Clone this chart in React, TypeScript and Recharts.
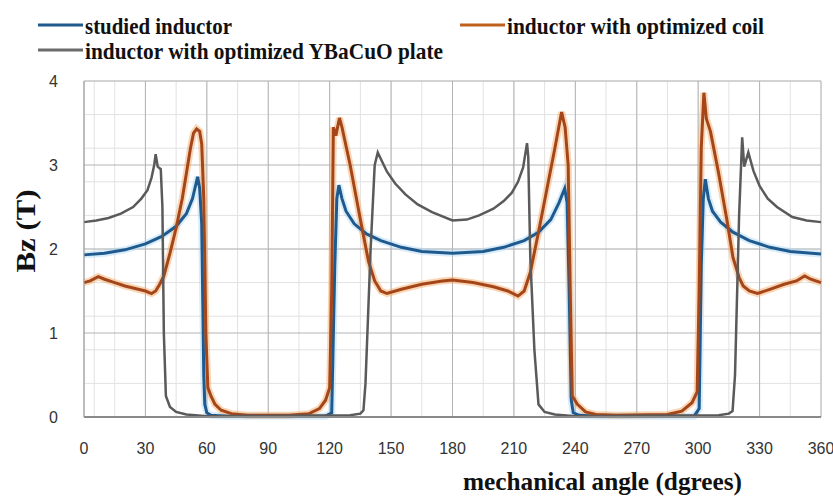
import React from 'react';
import { LineChart, Line, XAxis, YAxis, CartesianGrid, Legend } from 'recharts';

// mechanical angle (deg) / Bz (T) readings for each inductor
const studiedInductor: [number, number][] = [
  [0, 1.93], [10, 1.95], [20, 1.99], [30, 2.06], [38, 2.15], [45, 2.27], [50, 2.42], [53, 2.6],
  [55.5, 2.86], [56.5, 2.72], [57.5, 2.3], [58.5, 0.5], [59, 0.15], [60, 0.05], [62, 0.02], [70, 0.01],
  [118, 0.01], [121, 0.05], [122.5, 1.8], [123.5, 2.6], [124.5, 2.76], [126, 2.6], [128, 2.45],
  [132, 2.3], [138, 2.18], [145, 2.1], [155, 2.02], [165, 1.97], [180, 1.95], [195, 1.97], [205, 2.02],
  [215, 2.1], [222, 2.2], [228, 2.35], [232, 2.55], [234.8, 2.72], [236, 2.55], [237, 1.5], [238, 0.2],
  [239, 0.05], [242, 0.02], [250, 0.01], [298, 0.01], [300.5, 0.1], [301.5, 1.8], [302.5, 2.6],
  [303.5, 2.83], [305, 2.6], [307, 2.45], [311, 2.32], [317, 2.2], [325, 2.1], [335, 2.02], [345, 1.97],
  [360, 1.94],
];

const optimizedCoil: [number, number][] = [
  [0, 1.6], [3, 1.62], [7, 1.67], [10, 1.64], [15, 1.6], [20, 1.56], [25, 1.53], [30, 1.5], [33, 1.47],
  [35, 1.5], [37, 1.58], [39, 1.68], [42, 1.95], [45, 2.25], [48, 2.6], [50, 2.9], [52, 3.2], [53.5, 3.38],
  [55, 3.43], [56.5, 3.4], [57.5, 3.25], [58.5, 2.6], [59.5, 1.0], [60.5, 0.35], [62, 0.25], [64, 0.15],
  [67, 0.08], [72, 0.04], [80, 0.02], [100, 0.02], [110, 0.04], [115, 0.1], [118, 0.2], [120, 0.35],
  [121, 1.5], [121.8, 3.45], [123, 3.35], [124.8, 3.56], [126, 3.45], [130, 3.0], [135, 2.35],
  [139, 1.85], [142, 1.62], [145, 1.5], [148, 1.47], [155, 1.52], [165, 1.58], [175, 1.62], [180, 1.63],
  [190, 1.6], [200, 1.55], [207, 1.5], [212, 1.44], [215, 1.5], [218, 1.72], [222, 2.2], [226, 2.7],
  [230, 3.2], [233.3, 3.63], [235, 3.45], [236.5, 3.0], [237.5, 1.5], [238.5, 0.25], [241, 0.15],
  [245, 0.06], [250, 0.03], [260, 0.02], [285, 0.03], [292, 0.07], [297, 0.17], [299.5, 0.3],
  [300.5, 1.5], [301.5, 3.2], [302.8, 3.86], [304, 3.55], [306, 3.4], [310, 2.9], [314, 2.35],
  [317, 1.9], [320, 1.66], [322, 1.56], [325, 1.5], [329, 1.47], [335, 1.52], [342, 1.58], [348, 1.62],
  [352, 1.68], [355, 1.64], [360, 1.6],
];

const optimizedPlate: [number, number][] = [
  [0, 2.32], [6, 2.34], [12, 2.37], [18, 2.42], [24, 2.5], [28, 2.6], [31, 2.7], [33, 2.85], [34.3, 3.0],
  [35, 3.13], [36, 2.98], [37.5, 2.95], [38.3, 2.5], [39, 1.0], [40, 0.25], [42, 0.12], [45, 0.06],
  [50, 0.03], [60, 0.01], [130, 0.02], [135, 0.04], [136.5, 0.08], [137.5, 0.4], [140, 2.0], [142, 3.0],
  [143.5, 3.15], [146, 3.02], [148, 2.92], [152, 2.78], [157, 2.65], [163, 2.53], [170, 2.44],
  [180, 2.34], [187, 2.35], [193, 2.4], [200, 2.48], [205, 2.57], [209, 2.67], [212, 2.8], [214.5, 2.97],
  [216.4, 3.26], [217, 3.1], [218, 1.9], [220, 0.8], [222, 0.15], [225, 0.06], [230, 0.03], [240, 0.01],
  [310, 0.02], [315, 0.04], [316.8, 0.07], [318, 0.5], [320, 2.4], [321.5, 3.33], [322.5, 2.98],
  [324.5, 3.15], [327, 2.93], [330, 2.75], [334, 2.6], [338.5, 2.5], [346, 2.38], [353, 2.34], [360, 2.32],
];

const angleTicks = [0, 30, 60, 90, 120, 150, 180, 210, 240, 270, 300, 330, 360];
const bzTicks = [0, 1, 2, 3, 4];

const minorAngles = Array.from({ length: 73 }, (_, i) => i * 5);
const minorBz = Array.from({ length: 21 }, (_, i) => +(i * 0.2).toFixed(1));

const toPoints = (pts: [number, number][]) => pts.map(([a, v]) => ({ a, v }));

const serif = "'Liberation Serif', 'DejaVu Serif', serif";
const sans = "'Liberation Sans', Arial, sans-serif";

// legend placement: line start, baseline, text width
const legendSpots: Record<string, { x: number; y: number; w: number; color: string }> = {
  'studied inductor': { x: 38, y: 34, w: 147, color: '#1f5a8e' },
  'inductor with optimized coil': { x: 460, y: 34, w: 257, color: '#c0601f' },
  'inductor with optimized YBaCuO plate': { x: 38, y: 59, w: 358, color: '#6a6a6a' },
};

const renderLegend = (props: any) => (
  <svg width={833} height={60} style={{ display: 'block', overflow: 'visible' }}>
    {(props.payload || []).map((entry: any) => {
      const spot = legendSpots[entry.value];
      if (!spot) return null;
      return (
        <g key={entry.value}>
          <line x1={spot.x} x2={spot.x + 45} y1={spot.y - 9} y2={spot.y - 9} stroke={spot.color} strokeWidth={3} />
          <text x={spot.x + 47} y={spot.y} fontFamily={serif} fontWeight="bold" fontSize={23} fill="#111"
            textLength={spot.w} lengthAdjust="spacingAndGlyphs">
            {entry.value}
          </text>
        </g>
      );
    })}
  </svg>
);

const renderYLabel = (props: any) => {
  const { x, y, height } = props.viewBox;
  const cx = x + 26;
  const cy = y + height / 2 - 18;
  return (
    <text x={cx} y={cy} transform={`rotate(-90 ${cx} ${cy})`} textAnchor="middle" dominantBaseline="central"
      fontFamily={serif} fontWeight="bold" fontSize={27} fill="#111" textLength={83} lengthAdjust="spacingAndGlyphs">
      Bz (T)
    </text>
  );
};

const renderXLabel = (props: any) => {
  const { x, y, width } = props.viewBox;
  return (
    <text x={x + width / 2 + 150} y={y + 73} textAnchor="middle" fontFamily={serif} fontWeight="bold"
      fontSize={25} fill="#111" textLength={279} lengthAdjust="spacingAndGlyphs">
      mechanical angle (dgrees)
    </text>
  );
};

export default function App() {
  return (
    <div style={{ position: 'absolute', left: 0, top: 0, width: 833, height: 497, background: '#fff' }}>
      <LineChart width={833} height={497} margin={{ top: 21, right: 12, bottom: 0, left: 0 }}>
        <CartesianGrid stroke="#e2e2e2" strokeWidth={1} verticalValues={minorAngles} horizontalValues={minorBz} />
        <CartesianGrid stroke="#b4b4b4" strokeWidth={1} verticalValues={angleTicks} horizontalValues={bzTicks} />
        <XAxis dataKey="a" type="number" domain={[0, 360]} ticks={angleTicks} allowDuplicatedCategory={false}
          height={80} tickLine={false} tickMargin={20} axisLine={{ stroke: '#8a8a8a', strokeWidth: 2 }}
          tick={{ fontFamily: sans, fontSize: 16, fill: '#333' }} label={{ content: renderXLabel }} />
        <YAxis type="number" domain={[0, 4]} ticks={bzTicks} width={84} tickLine={false} tickMargin={20}
          axisLine={{ stroke: '#a0a0a0' }} tick={{ fontFamily: sans, fontSize: 16, fill: '#333' }}
          label={{ content: renderYLabel }} />
        <Legend layout="vertical" align="center" verticalAlign="top" content={renderLegend}
          wrapperStyle={{ position: 'absolute', top: 0, left: 0, width: 833, height: 60 }} />
        <Line data={toPoints(studiedInductor)} dataKey="v" legendType="none" stroke="#a9d4f5" strokeWidth={7}
          strokeOpacity={0.45} dot={false} isAnimationActive={false} />
        <Line data={toPoints(optimizedCoil)} dataKey="v" legendType="none" stroke="#f5a35c" strokeWidth={7}
          strokeOpacity={0.45} dot={false} isAnimationActive={false} />
        <Line data={toPoints(studiedInductor)} dataKey="v" name="studied inductor" stroke="#1f5a8e"
          strokeWidth={3} dot={false} isAnimationActive={false} />
        <Line data={toPoints(optimizedCoil)} dataKey="v" name="inductor with optimized coil" stroke="#a4461a"
          strokeWidth={3} dot={false} isAnimationActive={false} />
        <Line data={toPoints(optimizedPlate)} dataKey="v" name="inductor with optimized YBaCuO plate"
          stroke="#5a5a5a" strokeWidth={2.5} dot={false} isAnimationActive={false} />
      </LineChart>
    </div>
  );
}
